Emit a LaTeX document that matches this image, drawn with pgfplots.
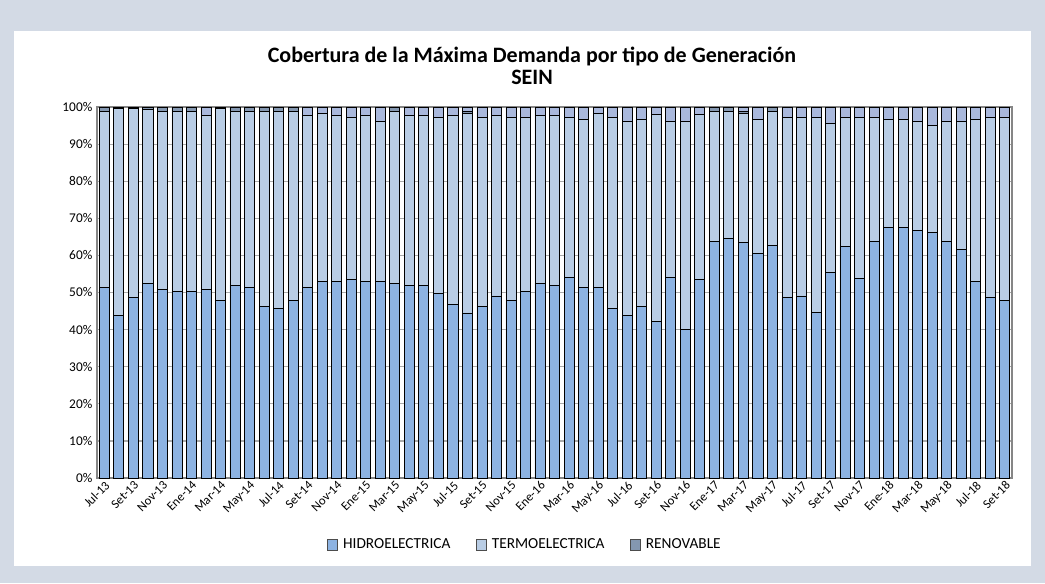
\documentclass[border=0pt]{standalone}
\usepackage{pgfplots}
\pgfplotsset{compat=1.18}
\usepackage{pgfplotstable}
\usepackage{fontspec}
\setmainfont{Carlito}
\definecolor{hydro}{HTML}{8DB3E2}
\definecolor{termo}{HTML}{B9CDE5}
\definecolor{renov}{HTML}{8497B0}
\definecolor{otros}{HTML}{A9B8DC}
\definecolor{framebg}{HTML}{D3DAE5}
\definecolor{gridc}{HTML}{ABABAB}
\definecolor{axisc}{HTML}{868686}

\pgfplotstableread{
x h t r l
1 51.3 47.5 1.2 0
2 43.9 55.7 0.4 0
3 48.6 51.0 0.4 0
4 52.5 46.9 0.6 0
5 50.8 48.0 1.2 0
6 50.3 48.5 1.2 0
7 50.3 48.5 1.2 0
8 50.8 47.0 0 2.2
9 47.9 51.7 0.4 0
10 52.0 46.8 1.2 0
11 51.3 47.5 1.2 0
12 46.2 52.6 1.2 0
13 45.7 53.1 1.2 0
14 47.9 50.9 1.2 0
15 51.3 46.5 0 2.2
16 53.0 45.3 0 1.7
17 53.0 44.8 0 2.2
18 53.6 43.6 0 2.8
19 53.0 44.8 0 2.2
20 53.0 43.1 0 3.9
21 52.5 46.2 1.3 0
22 52.0 45.8 0 2.2
23 52.0 45.8 0 2.2
24 49.7 47.5 0 2.8
25 46.9 50.9 0 2.2
26 44.5 53.8 0.5 1.2
27 46.2 51.0 0 2.8
28 49.1 48.7 0 2.2
29 47.9 49.3 0 2.8
30 50.3 46.9 0 2.8
31 52.5 45.3 0 2.2
32 52.0 45.8 0 2.2
33 54.1 43.1 0 2.8
34 51.3 45.3 0 3.4
35 51.3 47.0 0 1.7
36 45.7 51.5 0 2.8
37 43.9 52.2 0 3.9
38 46.2 50.4 0 3.4
39 42.3 55.6 0 2.1
40 54.1 42.0 0 3.9
41 40.0 56.1 0 3.9
42 53.6 44.3 0 2.1
43 63.8 35.0 1.2 0
44 64.5 34.3 1.2 0
45 63.4 34.9 0.5 1.2
46 60.5 36.1 0 3.4
47 62.8 36.0 1.2 0
48 48.6 48.6 0 2.8
49 49.1 48.1 0 2.8
50 44.6 52.6 0 2.8
51 55.4 40.1 0 4.5
52 62.4 34.8 0 2.8
53 53.7 43.5 0 2.8
54 63.9 33.3 0 2.8
55 67.5 29.1 0 3.4
56 67.5 29.1 0 3.4
57 66.8 29.3 0 3.9
58 66.3 28.7 0 5.0
59 63.9 32.2 0 3.9
60 61.6 34.5 0 3.9
61 53.0 43.6 0 3.4
62 48.6 48.6 0 2.8
63 47.9 49.3 0 2.8
}\datatable

\begin{document}
\begin{tikzpicture}
\useasboundingbox (0pt,0pt) rectangle (783.75pt,437.25pt);
\fill[framebg] (0pt,0pt) rectangle (783.75pt,437.25pt);
\fill[white] (10.5pt,12.75pt) rectangle (773.25pt,414pt);
\node[font=\bfseries\fontsize{16.5}{19}\selectfont] at (399pt,395pt) {Cobertura de la Máxima Demanda por tipo de Generación};
\node[font=\bfseries\fontsize{16.5}{19}\selectfont] at (399pt,379pt) {SEIN};
\begin{axis}[
  at={(72.75pt,78.75pt)}, anchor=south west,
  scale only axis, width=686.25pt, height=278.25pt,
  ybar stacked, bar width=0.69,
  xmin=0.5, xmax=63.5, ymin=0, ymax=100,
  ytick={0,10,...,100},
  yticklabel={\pgfmathprintnumber{\tick}\%},
  xtick={1,3,...,63},
  xticklabels={Jul-13,Set-13,Nov-13,Ene-14,Mar-14,May-14,Jul-14,Set-14,Nov-14,Ene-15,Mar-15,May-15,Jul-15,Set-15,Nov-15,Ene-16,Mar-16,May-16,Jul-16,Set-16,Nov-16,Ene-17,Mar-17,May-17,Jul-17,Set-17,Nov-17,Ene-18,Mar-18,May-18,Jul-18,Set-18},
  xticklabel style={rotate=45, anchor=north east, inner sep=1pt, font=\fontsize{9.5}{11}\selectfont},
  yticklabel style={font=\fontsize{10}{12}\selectfont},
  /pgf/number format/assume math mode=true,
  tick style={draw=none},
  ymajorgrids, grid style={gridc, line width=0.9pt},
  axis line style={axisc, line width=1.5pt},
  legend style={at={(0.468,-0.18)}, anchor=center, draw=none, legend columns=3,
     font=\fontsize{11.5}{13}\selectfont, inner sep=0pt,
     /tikz/every odd column/.append style={column sep=2pt},
     /tikz/every even column/.append style={column sep=17pt}},
  legend image code/.code={\draw[#1, draw=black!70, line width=0.5pt] (0pt,-3.8pt) rectangle (7.5pt,3.8pt);},
  every axis plot/.append style={draw=black, line width=0.5pt},
]
\addplot[fill=hydro] table[x=x,y=h]{\datatable};
\addplot[fill=termo] table[x=x,y=t]{\datatable};
\addplot[fill=renov] table[x=x,y=r]{\datatable};
\addplot[fill=otros] table[x=x,y=l]{\datatable};
\legend{HIDROELECTRICA,TERMOELECTRICA,RENOVABLE}
\end{axis}
\end{tikzpicture}
\end{document}
